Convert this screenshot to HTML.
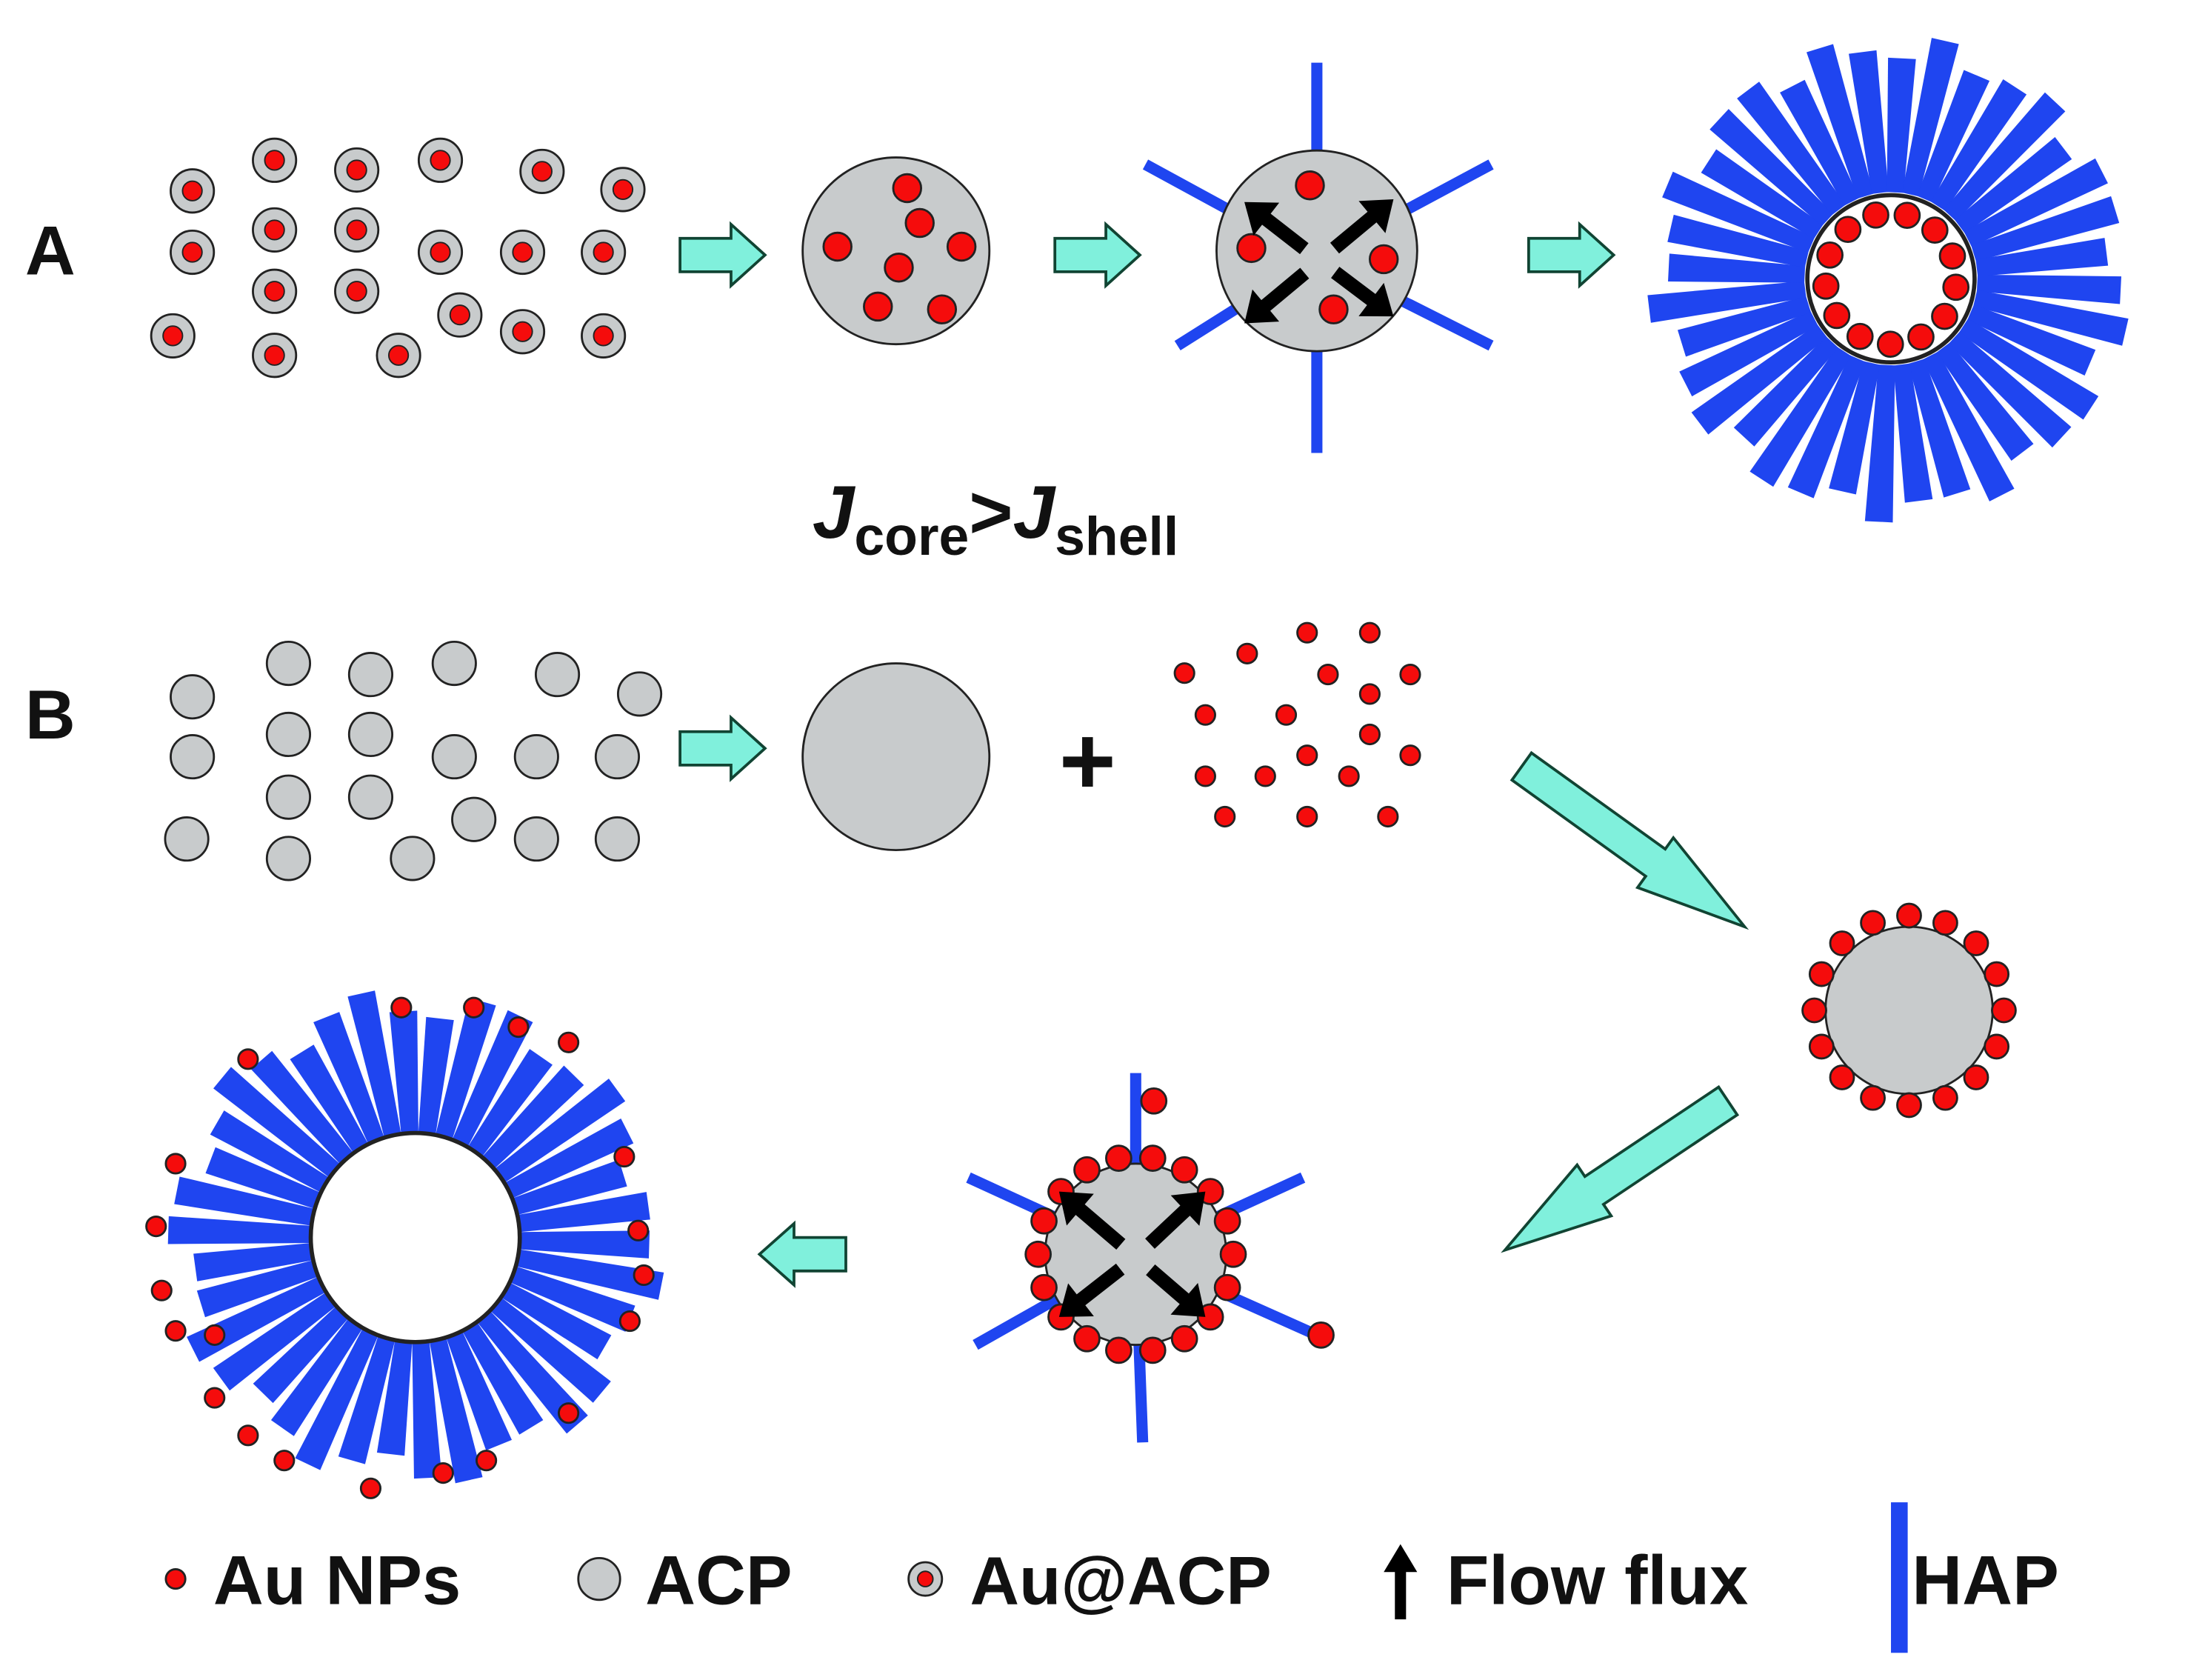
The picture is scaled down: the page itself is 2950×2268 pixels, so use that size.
<!DOCTYPE html>
<html><head><meta charset="utf-8"><style>
html,body{margin:0;padding:0;background:#fff;}
svg{display:block}
text{font-family:"Liberation Sans",Arial,sans-serif;font-weight:bold;fill:#111}
</style></head><body>
<svg id="s" width="2950" height="2268" viewBox="0 0 1568 1205.5" preserveAspectRatio="none" xmlns="http://www.w3.org/2000/svg">
<rect width="1568" height="1206" fill="#fff"/>
<g id="g"></g>
<text x="18" y="197" font-size="50">A</text>
<text x="18" y="530" font-size="50">B</text>
<text x="583" y="386" font-size="54" font-style="italic">J<tspan font-size="39" font-style="normal" dy="12">core</tspan><tspan dy="-12" font-style="normal" font-size="54">&gt;</tspan><tspan font-style="italic">J</tspan><tspan font-size="39" font-style="normal" dy="12">shell</tspan></text>
<text x="760" y="570" font-size="70">+</text>
<text x="153" y="1151" font-size="50">Au NPs</text>
<text x="463" y="1151" font-size="50">ACP</text>
<text x="696" y="1151" font-size="49">Au@ACP</text>
<text x="1038" y="1151" font-size="50">Flow flux</text>
<text x="1372" y="1151" font-size="50">HAP</text>
</svg>
<script>
var g=document.getElementById('g'),h='';
var BL='#1f45f0',RD='#f50c0c',GR='#c8cbcc',CY='#80f0dc';
function c(x,y,r,f,sw){h+='<circle cx="'+x+'" cy="'+y+'" r="'+r+'" fill="'+f+'" stroke="#222" stroke-width="'+(sw||1.5)+'"/>';}
function ray(cx,cy,a,r0,r1,w0,w1){var ca=Math.cos(a),sa=Math.sin(a),px=-sa,py=ca;
 var p=[[cx+ca*r0+px*w0/2,cy+sa*r0+py*w0/2],[cx+ca*r1+px*w1/2,cy+sa*r1+py*w1/2],[cx+ca*r1-px*w1/2,cy+sa*r1-py*w1/2],[cx+ca*r0-px*w0/2,cy+sa*r0-py*w0/2]];
 h+='<polygon fill="'+BL+'" points="'+p.map(function(q){return q[0].toFixed(1)+','+q[1].toFixed(1)}).join(' ')+'"/>';}
function line(x1,y1,x2,y2,w,col){h+='<line x1="'+x1+'" y1="'+y1+'" x2="'+x2+'" y2="'+y2+'" stroke="'+(col||BL)+'" stroke-width="'+w+'"/>';}
function barrow(x1,y1,x2,y2){var dx=x2-x1,dy=y2-y1,L=Math.hypot(dx,dy),a=Math.atan2(dy,dx)*180/Math.PI;
 var hl=L*0.4,sw=12,hw=22;
 h+='<polygon transform="translate('+x1+','+y1+') rotate('+a+')" fill="'+CY+'" stroke="#143" stroke-width="2" points="0,'+(-sw)+' '+(L-hl)+','+(-sw)+' '+(L-hl)+','+(-hw)+' '+L+',0 '+(L-hl)+','+hw+' '+(L-hl)+','+sw+' 0,'+sw+'"/>';}
function karrow(cx,cy,x2,y2){var dx=x2-cx,dy=y2-cy,D=Math.hypot(dx,dy),a=Math.atan2(dy,dx)*180/Math.PI;
 var s=14,L=D-s;
 h+='<polygon transform="translate('+cx+','+cy+') rotate('+a+') translate('+s+',0)" fill="#000" points="0,-5 '+(L-20)+',-5 '+(L-20)+',-15 '+L+',0 '+(L-20)+',15 '+(L-20)+',5 0,5"/>';}
var pts=[[138,137],[197,115],[256,122],[316,115],[389,123],[447,136],[138,181],[197,165],[256,165],[316,181],[375,181],[433,181],[197,209],[256,209],[330,226],[375,238],[124,241],[197,255],[286,255],[433,241]];
pts.forEach(function(p){c(p[0],p[1],15.5,GR);c(p[0],p[1],7,RD,1);});
var ptsB=[[138,500],[207,476],[266,484],[326,476],[400,484],[459,498],[138,543],[207,527],[266,527],[326,543],[385,543],[443,543],[207,572],[266,572],[340,588],[385,602],[134,602],[207,616],[296,616],[443,602]];
ptsB.forEach(function(p){c(p[0],p[1],15.5,GR);});
barrow(488,183,549,183);barrow(757,183,818,183);barrow(1097,183,1158,183);barrow(488,537,549,537);barrow(607,900,545,900);
barrow(1092,550,1252,665);barrow(1240,790,1080,897);
c(643,180,67,GR);
[[651,135],[601,177],[660,160],[690,177],[645,192],[630,220],[676,222]].forEach(function(p){c(p[0],p[1],10,RD);});
[[945,45],[822,118],[1070,118],[845,248],[1070,248],[945,325]].forEach(function(p){line(945,185,p[0],p[1],8);});
c(945,180,72,GR);
[[940,133],[898,178],[993,186],[957,222]].forEach(function(p){c(p[0],p[1],10,RD);});
[[893,145],[1000,143],[893,232],[1000,227]].forEach(function(p){karrow(947,187,p[0],p[1]);});
for(var i=0;i<36;i++){var a=i/36*2*Math.PI+0.05;var r1=165+10*Math.sin(i*2.3);ray(1357,200,a,62,r1,12,20);}
c(1357,200,60,'#fff',3);
for(i=0;i<13;i++){var a=-Math.PI/2+0.25+i/13*2*Math.PI;c((1357+47*Math.cos(a)).toFixed(1),(200+47*Math.sin(a)).toFixed(1),9,RD);}
c(643,543,67,GR);
[[850,483],[895,469],[938,454],[983,454],[1012,484],[865,513],[923,513],[953,484],[983,498],[865,557],[908,557],[938,542],[968,557],[1012,542],[879,586],[938,586],[996,586],[983,527]].forEach(function(p){c(p[0],p[1],7,RD);});
c(1370,725,60,GR);
for(i=0;i<16;i++){var a=i/16*2*Math.PI;c((1370+68*Math.cos(a)).toFixed(1),(725+68*Math.sin(a)).toFixed(1),8.5,RD);}
[[815,770],[695,845],[935,845],[700,965],[945,958],[820,1035]].forEach(function(p){line(815,900,p[0],p[1],8);});
c(815,900,65,GR);
for(i=0;i<18;i++){var a=i/18*2*Math.PI;c((815+70*Math.cos(a)).toFixed(1),(900+70*Math.sin(a)).toFixed(1),9,RD);}
c(828,790,9,RD);c(948,958,9,RD);
[[760,855],[865,855],[760,945],[865,945]].forEach(function(p){karrow(815,902,p[0],p[1]);});
for(i=0;i<38;i++){var a=i/38*2*Math.PI+0.03;var r1=168+12*Math.sin(i*1.7);ray(298,888,a,70,r1,12,20);}
c(298,888,75,'#fff',3);
[[288,723],[340,723],[372,737],[408,748],[178,760],[126,835],[112,880],[116,926],[126,955],[154,958],[154,1003],[178,1030],[204,1048],[266,1068],[318,1057],[349,1048],[408,1014],[452,948],[462,915],[458,883],[448,830]].forEach(function(p){c(p[0],p[1],7,RD);});
c(126,1133,7,RD);c(430,1133,15,GR);c(664,1133,12,GR);c(664,1133,5.5,RD,1);
h+='<polygon fill="#000" points="1001,1162 1001,1128 993,1128 1005,1108 1017,1128 1009,1128 1009,1162"/>';
h+='<rect x="1357" y="1078" width="12" height="108" fill="'+BL+'"/>';
g.innerHTML=h;
</script>
</body></html>
